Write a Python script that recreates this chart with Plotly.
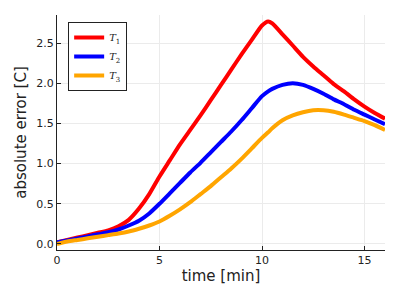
import plotly.graph_objects as go

t = [0, 0.5, 1, 1.5, 2, 2.5, 3, 3.5, 4, 4.5, 5, 5.5, 6, 6.5, 7, 7.5, 8, 8.5, 9, 9.5,
     10, 10.3, 10.5, 11, 11.5, 12, 12.5, 13, 13.5, 14, 14.5, 15, 15.5, 16]

T1 = [0.02, 0.05, 0.08, 0.11, 0.14, 0.17, 0.22, 0.30, 0.44, 0.62, 0.84, 1.04, 1.24, 1.42, 1.60,
      1.79, 1.98, 2.17, 2.36, 2.54, 2.72, 2.77, 2.745, 2.61, 2.47, 2.33, 2.21, 2.10, 1.99, 1.90,
      1.80, 1.71, 1.63, 1.56]
T2 = [0.02, 0.045, 0.07, 0.095, 0.12, 0.145, 0.18, 0.23, 0.29, 0.38, 0.50, 0.63, 0.76, 0.89, 1.01,
      1.14, 1.27, 1.40, 1.54, 1.69, 1.84, 1.90, 1.93, 1.98, 2.00, 1.98, 1.93, 1.87, 1.80, 1.74,
      1.67, 1.61, 1.55, 1.49]
T3 = [0.0, 0.03, 0.05, 0.07, 0.09, 0.11, 0.13, 0.155, 0.19, 0.23, 0.28, 0.35, 0.43, 0.52, 0.62,
      0.72, 0.83, 0.94, 1.06, 1.19, 1.32, 1.39, 1.44, 1.54, 1.60, 1.64, 1.665, 1.665, 1.645, 1.61,
      1.57, 1.53, 1.48, 1.42]

names = ["<i>T</i><sub>1</sub>", "<i>T</i><sub>2</sub>", "<i>T</i><sub>3</sub>"]
colors = ["#ff0000", "#0000ff", "#ffa500"]

fig = go.Figure()
for y, n, c in zip([T1, T2, T3], names, colors):
    fig.add_trace(go.Scatter(x=t, y=y, mode="lines", name=n,
                             line=dict(color=c, width=4, shape="spline", smoothing=0.6)))

axis_common = dict(showgrid=True, gridcolor="#ebebeb", gridwidth=1, zeroline=False,
                   showline=True, linecolor="#222222", linewidth=1,
                   ticks="inside", ticklen=4, tickcolor="#222222",
                   tickfont=dict(family="DejaVu Sans", size=11, color="#222222"),
                   mirror=False, automargin=False)

# page body has an 8px default margin, so the figure is offset by 8px
fig.update_layout(
    width=400, height=300,
    margin=dict(l=49, r=23, t=7, b=58),
    paper_bgcolor="white", plot_bgcolor="white",
    font=dict(family="DejaVu Sans", color="#222222"),
    xaxis=dict(range=[0, 16], tickvals=[0, 5, 10, 15],
               title=dict(text="time [min]", font=dict(size=15), standoff=4), **axis_common),
    yaxis=dict(range=[-0.075, 2.85], tickvals=[0, 0.5, 1, 1.5, 2, 2.5], tickformat=".1f",
               title=dict(text="absolute error [C]", font=dict(size=15), standoff=6), **axis_common),
    legend=dict(x=0.034, y=0.97, xanchor="left", yanchor="top",
                bgcolor="white", bordercolor="#222222", borderwidth=1,
                font=dict(family="DejaVu Serif", size=10, color="#222222"),
                tracegroupgap=0, itemwidth=30),
    showlegend=True,
)

fig.write_html("out.html")
